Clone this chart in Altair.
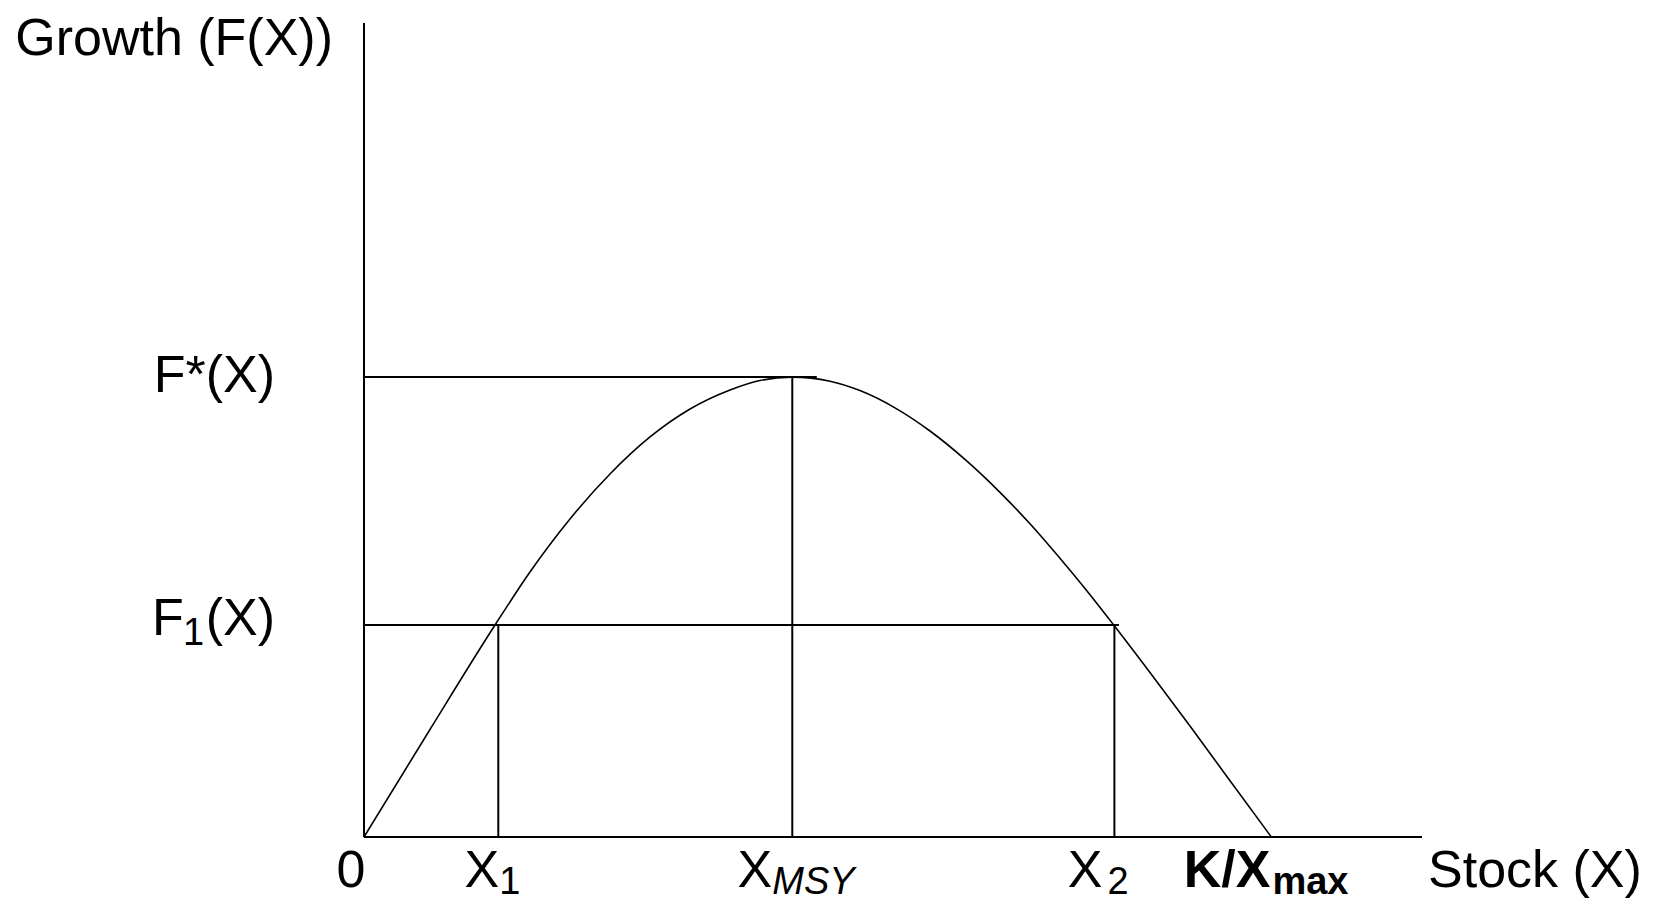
import altair as alt
import pandas as pd

# ---- values (stock in units of K=100, growth in units of F*=100)
curve_stock = [0, 7.27, 14.44, 18.29, 22.70, 27.11, 31.52, 35.93, 40.34, 43.64,
               47.17, 51.36, 54.66, 58.52, 62.38, 66.23, 70.09, 73.40, 76.70,
               79.46, 82.54, 86.62, 91.03, 95.44, 100]
curve_growth = [0, 23.38, 46.10, 57.62, 69.15, 78.93, 86.98, 93.06, 97.20, 99.26,
                100.0, 99.11, 97.07, 93.32, 88.28, 82.11, 74.95, 68.10, 60.60,
                54.03, 46.31, 35.77, 24.14, 12.22, 0]

x_axis_end = 116.6
y_axis_top = 177.0
F_star = 100.0
F_1 = 46.1
X_1 = 14.8
X_MSY = 47.2
X_2 = 82.7
K = 100.0
F_star_line_end = 49.9
F_1_line_end = 83.2

y_title = "Growth (F(X))"
x_title = "Stock (X)"
F_star_label = "F*(X)"
F1_label = ["F", "1", "(X)"]
X1_label = ["X", "1"]
XMSY_label = ["X", "MSY"]
X2_label = ["X", "2"]
K_label = ["K/X", "max"]
zero_label = "0"

FONT = "Liberation Sans"
FS = 52
SUB = 38
BASE = 50      # baseline of the stock-axis labels below the axis
SUBBASE = 57   # baseline of their subscripts

xs = alt.Scale(domain=[0, x_axis_end], nice=False, zero=False)
ys = alt.Scale(domain=[0, y_axis_top], nice=False, zero=False)

curve_df = pd.DataFrame({"x": curve_stock, "y": curve_growth})
curve = alt.Chart(curve_df).mark_line(
    color="black", strokeWidth=1.6, interpolate="monotone"
).encode(
    x=alt.X("x:Q", scale=xs, axis=None),
    y=alt.Y("y:Q", scale=ys, axis=None),
)

rules_df = pd.DataFrame({
    "x": [0, 0, 0, 0, X_1, X_MSY, X_2],
    "x2": [x_axis_end, 0, F_star_line_end, F_1_line_end, X_1, X_MSY, X_2],
    "y": [0, 0, F_star, F_1, 0, 0, 0],
    "y2": [0, y_axis_top, F_star, F_1, F_1, F_star, F_1],
})
rules = alt.Chart(rules_df).mark_rule(color="black", strokeWidth=2).encode(
    x=alt.X("x:Q", scale=xs, axis=None),
    x2="x2:Q",
    y=alt.Y("y:Q", scale=ys, axis=None),
    y2="y2:Q",
)


def label(xv, yv, txt, **style):
    df = pd.DataFrame({"x": [xv], "y": [yv], "t": [txt]})
    params = dict(baseline="alphabetic", color="black", font=FONT, fontSize=FS)
    params.update(style)
    return alt.Chart(df).mark_text(**params).encode(
        x=alt.X("x:Q", scale=xs, axis=None),
        y=alt.Y("y:Q", scale=ys, axis=None),
        text="t:N",
    )


texts = [
    label(0, y_axis_top, y_title, align="right", dx=-31, dy=32),
    label(0, F_star, F_star_label, align="right", dx=-89, dy=15),
    label(0, F_1, F1_label[0], align="left", dx=-212, dy=10),
    label(0, F_1, F1_label[1], align="left", dx=-181, dy=20, fontSize=SUB),
    label(0, F_1, F1_label[2], align="right", dx=-89, dy=10),
    label(0, 0, zero_label, align="center", dx=-13, dy=BASE),
    label(X_1, 0, X1_label[0], align="right", dx=1, dy=BASE),
    label(X_1, 0, X1_label[1], align="left", dx=1, dy=SUBBASE, fontSize=SUB),
    label(X_MSY, 0, XMSY_label[0], align="right", dx=-20, dy=BASE),
    label(X_MSY, 0, XMSY_label[1], align="left", dx=-20, dy=SUBBASE,
          fontSize=SUB, fontStyle="italic"),
    label(X_2, 0, X2_label[0], align="right", dx=-12, dy=BASE),
    label(X_2, 0, X2_label[1], align="left", dx=-7, dy=SUBBASE, fontSize=SUB),
    label(K, 0, K_label[0], align="right", dx=-1, dy=BASE, fontWeight="bold"),
    label(K, 0, K_label[1], align="left", dx=1, dy=SUBBASE, fontSize=SUB,
          fontWeight="bold"),
    label(x_axis_end, 0, x_title, align="left", dx=6, dy=BASE),
]

chart = alt.layer(rules, curve, *texts).properties(
    width=1058,
    height=814,
    autosize=alt.AutoSizeParams(type="none"),
    padding={"left": 356, "top": 15, "right": 222, "bottom": 65},
    background="white",
).configure_view(stroke=None)

chart.save("out.html", embed_options={"renderer": "svg", "actions": False})
